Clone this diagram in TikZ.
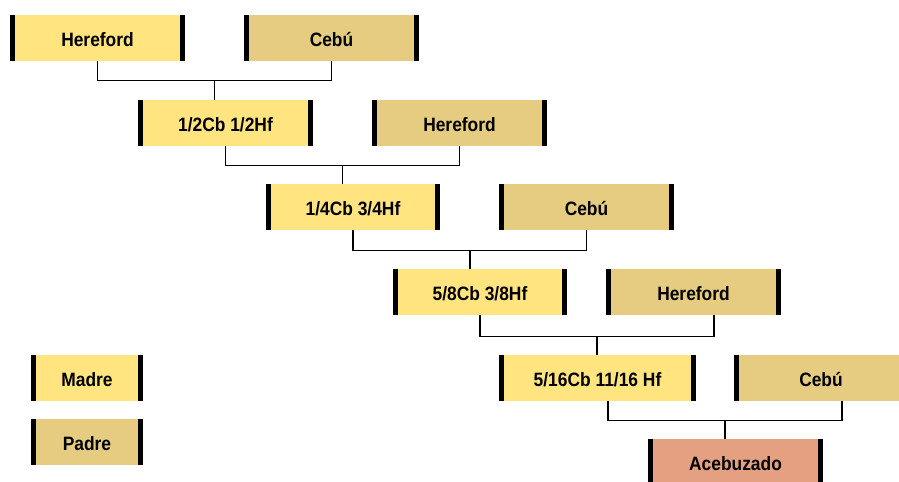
\documentclass[tikz,border=0pt]{standalone}
\usepackage{fontspec}
\newfontfamily\breedfamily{Liberation Sans}[FakeStretch=0.9]
\usetikzlibrary{calc}
\definecolor{madre}{RGB}{255,228,128}
\definecolor{padre}{RGB}{229,204,128}
\definecolor{cria}{RGB}{228,160,128}
\tikzset{
  breed/.style={minimum width=3.5cm, minimum height=0.92cm, inner sep=0pt,
    text height=9.6pt, text depth=0pt,
    font=\breedfamily\bfseries\fontsize{11}{13}\selectfont,
    path picture={
      \fill[black] (path picture bounding box.south west) rectangle ([xshift=0.1cm]path picture bounding box.north west);
      \fill[black] (path picture bounding box.south east) rectangle ([xshift=-0.1cm]path picture bounding box.north east);}},
  cruza/.style={breed, fill=madre},
  toro/.style={breed, fill=padre},
  link/.style={line width=0.9pt}
}
\begin{document}
\begin{tikzpicture}[x=0.02cm,y=-0.02cm]
\useasboundingbox (0,0) rectangle (899,481);

\node[cruza] (h1) at (97.5,38) {Hereford};
\node[toro] (c1) at (331.5,38) {Cebú};
\node[cruza] (g2) at (225.5,123) {1/2Cb 1/2Hf};
\node[toro] (h2) at (459.5,123) {Hereford};
\node[cruza] (g3) at (353,207) {1/4Cb 3/4Hf};
\node[toro] (c3) at (586.5,207) {Cebú};
\node[cruza] (g4) at (480,292) {5/8Cb 3/8Hf};
\node[toro] (h4) at (693.5,292) {Hereford};
\node[cruza, minimum width=3.94cm] (g5) at (597.5,378) {5/16Cb 11/16 Hf};
\node[toro] (c5) at (821,378) {Cebú};
\node[breed, fill=cria] (acb) at (735.5,462) {Acebuzado};

% leyenda
\node[cruza, minimum width=2.24cm] (madre) at (87,378) {Madre};
\node[toro, minimum width=2.24cm] (padre) at (87,442) {Padre};

% cruces
\draw[link] (h1.south) -- ++(0,19) -| (c1.south);
\path ($(h1.south)!.5!(c1.south)$) ++(0,19) coordinate (j1);
\draw[link] (j1) -- (j1 |- g2.north);

\draw[link] (g2.south) -- ++(0,19) -| (h2.south);
\path ($(g2.south)!.5!(h2.south)$) ++(0,19) coordinate (j2);
\draw[link] (j2) -- (j2 |- g3.north);

\draw[link] (g3.south) -- ++(0,20) -| (c3.south);
\path ($(g3.south)!.5!(c3.south)$) ++(0,20) coordinate (j3);
\draw[link] (j3) -- (j3 |- g4.north);

\coordinate (h4s) at ([xshift=0.41cm]h4.south);
\draw[link] (g4.south) -- ++(0,21) -| (h4s);
\path ($(g4.south)!.5!(h4s)$) ++(0,21) coordinate (j4);
\draw[link] (j4) -- (j4 |- g5.north);

\coordinate (g5s) at ([xshift=0.21cm]g5.south);
\coordinate (c5s) at ([xshift=0.42cm]c5.south);
\draw[link] (g5s) -- ++(0,19) -| (c5s);
\path ($(g5s)!.5!(c5s)$) ++(0,19) coordinate (j5);
\draw[link] (j5) -- (j5 |- acb.north);
\end{tikzpicture}
\end{document}
